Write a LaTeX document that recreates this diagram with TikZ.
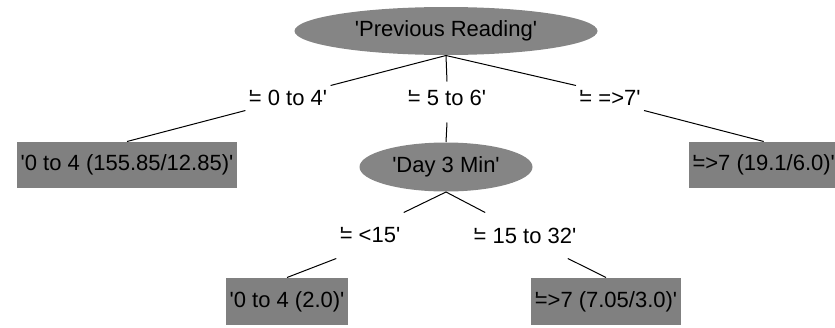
\documentclass[tikz,border=0pt]{standalone}
\usepackage{fontspec}
\setmainfont{Liberation Sans}[Ligatures=TeXOff]
\usetikzlibrary{shapes.geometric}
\newcommand{\qeq}{\makebox[0pt][l]{'}=}

\begin{document}
\begin{tikzpicture}[x=1pt, y=-1pt, line width=1pt,
	every node/.style={font=\fontsize{22}{26}\selectfont, text=black},
	split/.style={ellipse, fill=black!48, inner sep=0pt},
	leaf/.style={rectangle, fill=black!50, minimum height=46pt, inner xsep=4pt},
	branch/.style={inner xsep=3pt, minimum height=24pt}]
	\clip (0,0) rectangle (835,327);
	% split nodes
	\node[split, minimum width=303pt, minimum height=48pt] (reading) at (446,31) {'Previous Reading'};
	\node[split, minimum width=173pt, minimum height=49pt] (day) at (446,167) {'Day 3 Min'};
	% leaves
	\node[leaf] (low155) at (127,165) {'0 to 4 (155.85/12.85)'};
	\node[leaf, anchor=west] (high19) at (688,165) {\qeq>7 (19.1/6.0)'};
	\node[leaf, minimum height=47pt] (low2) at (287,301.5) {'0 to 4 (2.0)'};
	\node[leaf, minimum height=47pt] (high705) at (606,301.5) {\qeq>7 (7.05/3.0)'};
	% branch labels
	\node[branch] (r04) at (288,98) {\qeq\ 0 to 4'};
	\node[branch] (r56) at (447,98) {\qeq\ 5 to 6'};
	\node[branch] (r7) at (610,98) {\qeq\ =>7'};
	\node[branch, minimum height=45pt] (d15) at (370,235.5) {\qeq\ <15'};
	\node[branch, minimum height=45pt] (d1532) at (525,235.5) {\qeq\ 15 to 32'};
	% connectors
	\draw (reading.south) -- (r04.north east);
	\draw (r04.south west) -- (low155.north);
	\draw (reading.south) -- ([yshift=4pt]r56.north);
	\draw ([yshift=-12pt]r56.south) -- (day.north);
	\draw (reading.south) -- (r7.north west);
	\draw (r7.south east) -- (high19.north);
	\draw (day.south) -- (d15.north east);
	\draw (d15.south west) -- (low2.north);
	\draw (day.south) -- ([xshift=15pt]d1532.north west);
	\draw ([xshift=-12pt]d1532.south east) -- (high705.north);
\end{tikzpicture}
\end{document}
